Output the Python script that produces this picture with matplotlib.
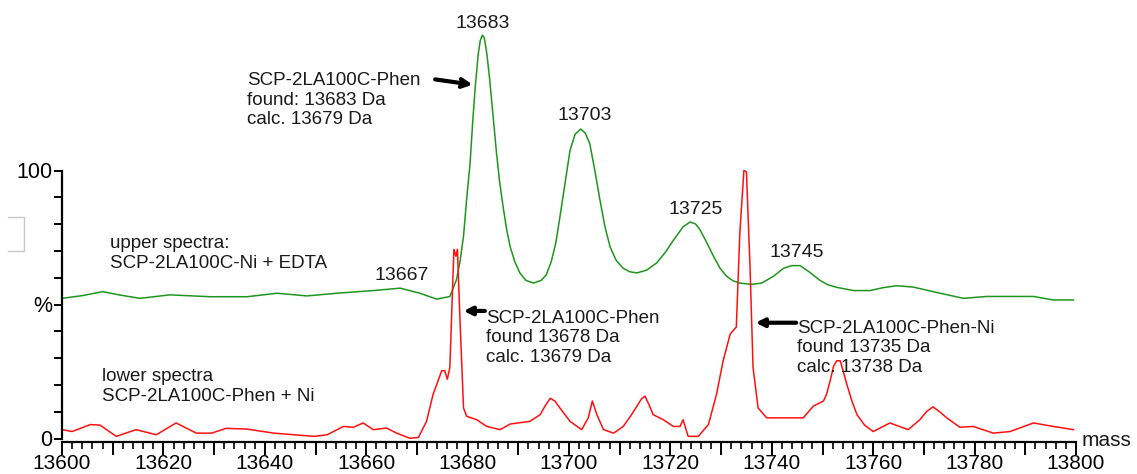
import matplotlib
matplotlib.use("Agg")
import matplotlib.pyplot as plt
from matplotlib.ticker import MultipleLocator, FixedLocator, FuncFormatter
from matplotlib.lines import Line2D

plt.rcParams['font.family'] = ['Liberation Sans', 'DejaVu Sans']

# Upper spectrum: SCP-2LA100C-Ni + EDTA (mass in Da, relative intensity in %)
green_mass = [13600, 13604, 13608, 13611.5, 13615.4, 13621.3, 13629.2, 13636.5,
              13642.4, 13648.3, 13654.2, 13661.4, 13666.7, 13670.6, 13673.9,
              13676.5, 13677.8, 13678.5, 13679.2, 13679.8, 13680.5, 13681.0,
              13681.5, 13682.1, 13682.5, 13682.9, 13683.3, 13683.8, 13684.3,
              13684.8, 13685.7, 13686.3, 13687.0, 13687.7, 13688.4, 13689.3,
              13690.3, 13691.5, 13693.0, 13694.5, 13695.5, 13696.5, 13697.4,
              13698.2, 13699.2, 13700.2, 13701.2, 13702.3, 13703.2, 13704.1,
              13705.1, 13706.1, 13707.1, 13708.1, 13709.3, 13710.7, 13712.0,
              13713.4, 13715.3, 13717.3, 13719.0, 13720.6, 13722.5, 13723.9,
              13725.0, 13725.8, 13727.2, 13728.5, 13729.8, 13731.1, 13732.4,
              13733.7, 13736.0, 13738.0, 13740.3, 13742.3, 13743.9, 13745.6,
              13747.5, 13749.5, 13751.0, 13752.8, 13756.1, 13759.4, 13762.0,
              13764.6, 13767.9, 13772.5, 13777.8, 13782.4, 13791.6, 13795.5,
              13799.5]
green_int = [52.3, 53.3, 54.8, 53.5, 52.3, 53.6, 52.9, 52.9,
             54.2, 53.2, 54.2, 55.2, 56.1, 54.2, 52.0,
             53.0, 59.2, 66.0, 75.6, 89.0, 103.0, 118.0,
             131.0, 143.5, 148.5, 150.5, 149.5, 143.5, 135.0,
             125.0, 106.5, 96.0, 86.5, 78.0, 71.5, 66.0,
             61.8, 59.0, 58.0, 59.0, 61.0, 66.0, 73.0,
             82.5, 95.0, 107.5, 113.5, 115.5, 114.0, 110.0,
             100.0, 89.0, 79.0, 71.5, 66.5, 63.5, 62.2,
             61.8, 62.8, 65.5, 69.5, 74.0, 79.0, 80.8,
             80.0, 78.0, 73.0, 68.0, 63.5, 60.5, 58.8,
             58.0, 57.5, 58.0, 60.5, 63.5, 64.5, 64.5,
             62.0, 59.0, 57.4, 56.4, 55.2, 55.2, 56.3,
             57.0, 56.5, 54.5, 52.3, 53.0, 53.0, 51.7,
             51.7]

# Lower spectrum: SCP-2LA100C-Phen + Ni
red_mass = [13600, 13602, 13605.6, 13607.5, 13610.7, 13614.6, 13618.6, 13622.5,
            13626.5, 13629.5, 13632.4, 13636.5, 13641.8, 13649.7, 13652.3,
            13655.5, 13657.5, 13659.4, 13661.4, 13664.0, 13666.0, 13668.6,
            13670.3, 13671.9, 13673.2, 13674.9, 13675.5, 13676.0, 13676.5,
            13677.3, 13677.7, 13678.0, 13678.5, 13679.2, 13679.8, 13681.8,
            13683.8, 13686.4, 13688.4, 13692.3, 13694.3, 13695.4, 13696.3,
            13697.2, 13698.2, 13700.2, 13702.5, 13703.8, 13704.6, 13705.5,
            13706.8, 13708.8, 13710.7, 13712.2, 13713.4, 13714.3, 13715.0,
            13715.8, 13716.6, 13718.6, 13720.6, 13721.9, 13722.5, 13723.0,
            13723.5, 13725.5, 13727.5, 13729.1, 13730.4, 13731.8, 13733.0,
            13733.7, 13734.5, 13735.0, 13735.7, 13736.3, 13737.3, 13739.0,
            13743.6, 13746.2, 13748.2, 13750.2, 13750.8, 13751.5, 13752.2,
            13752.8, 13753.5, 13754.1, 13754.8, 13755.8, 13756.8, 13758.3,
            13760.0, 13763.3, 13766.9, 13769.2, 13770.5, 13771.8, 13773.1,
            13774.5, 13777.1, 13779.7, 13783.7, 13787.0, 13791.6, 13795.5,
            13799.5]
red_int = [3.3, 2.6, 5.2, 5.0, 0.8, 3.3, 1.4, 5.8,
           2.0, 2.0, 3.8, 3.5, 2.0, 0.8, 1.4,
           4.5, 4.2, 5.8, 3.3, 3.9, 2.0, 0.1,
           0.4, 6.4, 16.5, 25.3, 25.3, 22.1, 26.5,
           70.6, 68.0, 70.6, 44.0, 11.4, 8.3, 7.0,
           4.5, 3.3, 5.4, 6.4, 8.9, 12.5, 15.0,
           14.0, 11.4, 6.4, 3.3, 7.7, 14.0, 8.9,
           3.3, 2.0, 4.5, 8.5, 12.1, 14.8, 15.8,
           12.5, 8.9, 7.0, 4.5, 4.5, 7.0, 3.9,
           0.8, 0.8, 5.2, 16.5, 29.0, 39.0, 41.6,
           76.9, 100.0, 99.5, 64.3, 26.5, 11.4, 7.7,
           7.7, 7.7, 12.1, 14.0, 16.5, 21.5, 27.0,
           29.0, 29.0, 25.0, 20.2, 14.0, 8.9, 5.0,
           2.6, 5.8, 3.3, 7.0, 10.0, 11.8, 10.0,
           7.7, 4.2, 4.5, 2.0, 2.6, 5.8, 4.5,
           3.3]

# Peak labels on the upper spectrum (mass, label height in %)
peak_masses = [13667, 13683, 13703, 13725, 13745]
peak_label_y = [61.0, 154.9, 120.7, 85.6, 69.4]

y_tick_values = [0, 50, 100]
y_tick_labels = ['0', '%', '100']
x_label_step = 20

W, H = 1137, 474
fig = plt.figure(figsize=(W / 100, H / 100), dpi=100)
zero_px = 438.5          # distance of the 0 % line from the top, px
px_per_pct = 2.68
ax = fig.add_axes([62 / W, (H - zero_px) / H, (1076 - 62) / W, zero_px / H])
ax.set_xlim(13600, 13800)
ax.set_ylim(0, zero_px / px_per_pct)

ax.plot(green_mass, green_int, color='#1e961e', lw=1.1, clip_on=False)
ax.plot(red_mass, red_int, color='#ff1010', lw=1.1, clip_on=False)

txt_color = '#1a1a1a'
for m, y in zip(peak_masses, peak_label_y):
    ax.text(m, y, f"{m}", ha='center', va='center', fontsize=14, color=txt_color)

# Axis styling
for s in ('top', 'right'):
    ax.spines[s].set_visible(False)
ax.spines['left'].set_bounds(0, 100)
ax.spines['bottom'].set_bounds(13600, 13800)
ax.spines['bottom'].set_position(('outward', 2.5))
for s in ('left', 'bottom'):
    ax.spines[s].set_linewidth(1.6)

ax.xaxis.set_major_locator(MultipleLocator(10))
ax.xaxis.set_minor_locator(MultipleLocator(2))
ax.xaxis.set_major_formatter(
    FuncFormatter(lambda v, _: f"{v:.0f}" if round(v) % x_label_step == 0 else ""))
ax.set_yticks(y_tick_values)
ax.set_yticklabels(y_tick_labels)
ax.yaxis.set_minor_locator(FixedLocator([10, 20, 30, 40, 60, 70, 80, 90]))

ax.tick_params(axis='x', which='major', length=9, width=1.4, labelsize=15, pad=0,
               colors='black')
ax.tick_params(axis='x', which='minor', length=5, width=1.2)
ax.tick_params(axis='y', which='both', length=6, width=1.4, labelsize=15.5, pad=1)

fig.text(1082 / W, (H - 440) / H, 'mass', ha='left', va='center', fontsize=15,
         color=txt_color)

# Annotations
ax.text(13636.5, 126.3, "SCP-2LA100C-Phen\nfound: 13683 Da\ncalc. 13679 Da",
        ha='left', va='center', fontsize=13.5, color=txt_color, linespacing=1.2)
ax.text(13683.6, 37.5, "SCP-2LA100C-Phen\nfound 13678 Da\ncalc. 13679 Da",
        ha='left', va='center', fontsize=13.5, color=txt_color, linespacing=1.2)
ax.text(13745.0, 33.8, "SCP-2LA100C-Phen-Ni\nfound 13735 Da\ncalc. 13738 Da",
        ha='left', va='center', fontsize=13.5, color=txt_color, linespacing=1.2)
ax.text(13609.5, 69.0, "upper spectra:\nSCP-2LA100C-Ni + EDTA",
        ha='left', va='center', fontsize=13.5, color=txt_color, linespacing=1.2)
ax.text(13607.8, 19.4, "lower spectra\nSCP-2LA100C-Phen + Ni",
        ha='left', va='center', fontsize=13.5, color=txt_color, linespacing=1.2)

ax.annotate('', xy=(13681.0, 132.0), xytext=(13673.6, 134.0),
            arrowprops=dict(arrowstyle='->', lw=3, color='black',
                            mutation_scale=14, shrinkA=0, shrinkB=0))
ax.annotate('', xy=(13679.2, 47.6), xytext=(13683.4, 47.6),
            arrowprops=dict(arrowstyle='-|>', lw=3, color='black',
                            mutation_scale=12, shrinkA=0, shrinkB=0))
ax.annotate('', xy=(13736.8, 43.2), xytext=(13744.8, 43.2),
            arrowprops=dict(arrowstyle='-|>', lw=3, color='black',
                            mutation_scale=12, shrinkA=0, shrinkB=0))

# Faint frame at the left edge
fig.add_artist(Line2D([8 / W, 24 / W, 24 / W, 8 / W],
                      [(H - 217) / H, (H - 217) / H, (H - 251) / H, (H - 251) / H],
                      transform=fig.transFigure, color='#c8c8c8', lw=1))

fig.savefig('out.png', dpi=100)
